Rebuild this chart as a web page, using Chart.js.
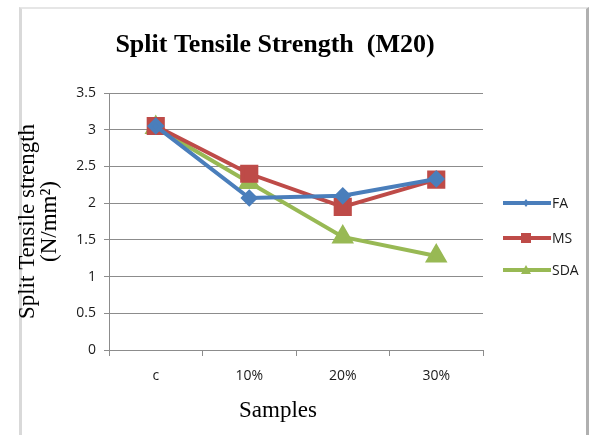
<!DOCTYPE html>
<html>
<head>
<meta charset="utf-8">
<script src="https://cdn.jsdelivr.net/npm/chart.js@4/dist/chart.umd.min.js"></script>
<style>
  html, body { margin: 0; padding: 0; background: #fff; }
  #wrap { position: relative; width: 590px; height: 435px; }
  #frame { position: absolute; left: 19px; top: 7px; width: 564px; height: 440px;
           border-left: 3px solid #d9d9d9; border-top: 2px solid #e6e6e6; border-right: 3px solid #b0b0b0; }
  canvas { position: absolute; left: 0; top: 0; }
</style>
</head>
<body>
<div id="wrap">
  <div id="frame"></div>
  <canvas id="chart" width="590" height="435"></canvas>
</div>
<script>
// data
const samples = ['c', '10%', '20%', '30%'];
const faValues = [3.05, 2.07, 2.1, 2.33];
const msValues = [3.05, 2.4, 1.95, 2.32];
const sdaValues = [3.03, 2.28, 1.54, 1.28];
const yTicks = [0, 0.5, 1, 1.5, 2, 2.5, 3, 3.5];

const chartTitle = 'Split Tensile Strength  (M20)';
const xTitle = 'Samples';

// title, x title and legend drawn at fixed spots like the Excel original
const extraText = {
  id: 'extraText',
  afterDraw(chart) {
    const ctx = chart.ctx;
    ctx.save();
    ctx.fillStyle = '#000';
    ctx.textBaseline = 'middle';
    ctx.textAlign = 'center';
    ctx.font = 'bold 26px "Liberation Serif"';
    ctx.fillText(chartTitle, 275, 45);
    ctx.font = '23px "Liberation Serif"';
    ctx.fillText(xTitle, 278, 411);

    // legend
    let y = 203;
    const gaps = [0, 35, 32];
    chart.data.datasets.forEach((ds, i) => {
      y += gaps[i];
      ctx.strokeStyle = ds.borderColor;
      ctx.lineWidth = 4;
      ctx.beginPath();
      ctx.moveTo(503, y);
      ctx.lineTo(551, y);
      ctx.stroke();
      ctx.fillStyle = ds.backgroundColor;
      ctx.beginPath();
      if (ds.pointStyle === 'rect') {
        ctx.rect(521, y - 5, 10, 10);
      } else if (ds.pointStyle === 'triangle') {
        ctx.moveTo(526, y - 5); ctx.lineTo(531, y + 4); ctx.lineTo(521, y + 4); ctx.closePath();
      } else {
        ctx.moveTo(526, y - 4); ctx.lineTo(529, y); ctx.lineTo(526, y + 4); ctx.lineTo(523, y); ctx.closePath();
      }
      ctx.fill();
      ctx.fillStyle = '#1a1a1a';
      ctx.textAlign = 'left';
      ctx.font = '14px "Open Sans"';
      ctx.fillText(ds.label, 552, y + 1);
    });
    ctx.restore();
  }
};

const ctx = document.getElementById('chart').getContext('2d');
new Chart(ctx, {
  type: 'line',
  data: {
    labels: samples,
    datasets: [
      { label: 'FA', data: faValues, borderColor: '#4A7EBB', backgroundColor: '#4A7EBB',
        borderWidth: 4, pointStyle: 'rectRot', pointRadius: 6, tension: 0 },
      { label: 'MS', data: msValues, borderColor: '#BE4B48', backgroundColor: '#BE4B48',
        borderWidth: 4, pointStyle: 'rect', pointRadius: 10, tension: 0 },
      { label: 'SDA', data: sdaValues, borderColor: '#98B954', backgroundColor: '#98B954',
        borderWidth: 4, pointStyle: 'triangle', pointRadius: 9, tension: 0 }
    ]
  },
  options: {
    responsive: false,
    animation: false,
    layout: { padding: { left: 6, top: 93, right: 107, bottom: 0 } },
    plugins: {
      legend: { display: false },
      title: { display: false },
      tooltip: { enabled: false }
    },
    scales: {
      x: {
        offset: true,
        grid: { display: true, drawOnChartArea: false, offset: true, tickLength: 6, color: '#8c8c8c' },
        border: { color: '#8c8c8c', width: 1 },
        ticks: { color: '#1a1a1a', font: { family: 'Open Sans', size: 14 }, padding: 12 },
        afterFit: s => { s.height = 85; }
      },
      y: {
        min: 0,
        max: 3.5,
        afterBuildTicks: s => { s.ticks = yTicks.map(v => ({ value: v })); },
        grid: { color: '#8c8c8c', tickLength: 5 },
        border: { color: '#8c8c8c', width: 1 },
        ticks: { color: '#1a1a1a', font: { family: 'Open Sans', size: 14 }, padding: 8,
                 callback: v => String(v) },
        title: {
          display: true,
          text: ['Split Tensile strength', '(N/mm\u00b2)'],
          color: '#000',
          font: { family: 'Liberation Serif', size: 23, lineHeight: 0.95 },
          padding: { top: 11, bottom: 0 }
        },
        afterFit: s => { s.width = 103; }
      }
    }
  },
  plugins: [extraText]
});
</script>
</body>
</html>
